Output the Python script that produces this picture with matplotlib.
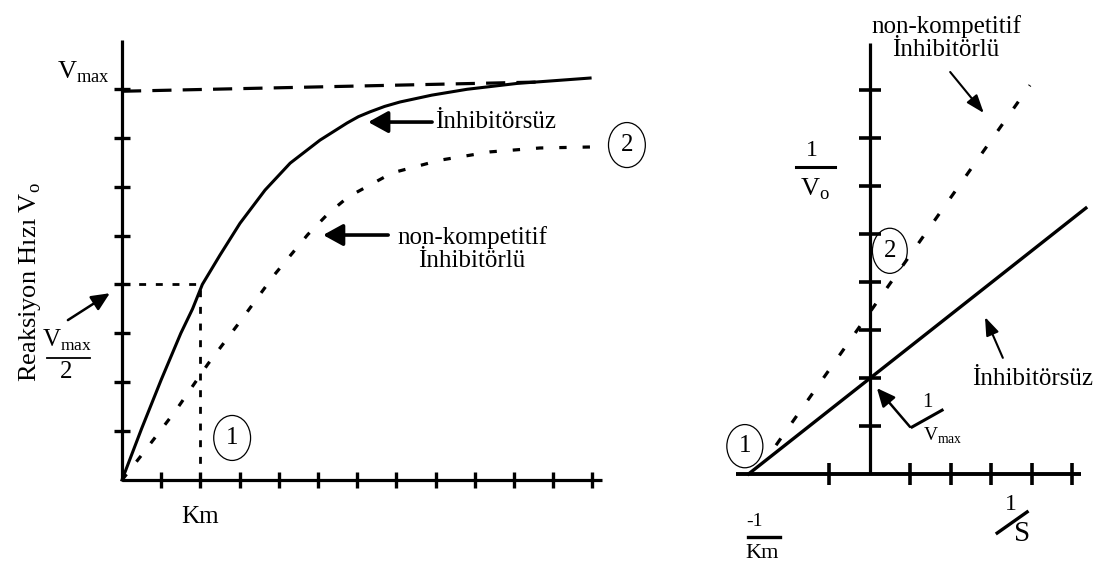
import matplotlib
matplotlib.use("Agg")

import matplotlib.pyplot as plt
from matplotlib.patches import Ellipse

plt.rcParams["font.family"] = "Liberation Serif"
plt.rcParams["mathtext.fontset"] = "custom"
plt.rcParams["mathtext.rm"] = "Liberation Serif"

# Michaelis-Menten panel: substrate vs. reaction rate
s_none = [0, 0.5, 1.0, 1.5, 1.8, 2.05, 2.5, 3.01, 3.65, 4.29, 5.05, 5.74, 6.03, 6.33, 6.7, 7.09, 7.9, 8.8, 10.08, 11.94]
v_none = [0, 1.05, 2.05, 3.0, 3.5, 4.0, 4.6, 5.25, 5.93, 6.48, 6.95, 7.30, 7.43, 7.53, 7.64, 7.73, 7.87, 7.99, 8.11, 8.22]

s_noncomp = [0, 0.54, 1.38, 2.19, 3.04, 3.88, 4.74, 5.25, 5.77, 6.89, 8.11, 9.39, 10.66, 11.94]
v_noncomp = [0, 0.55, 1.43, 2.37, 3.27, 4.19, 5.02, 5.44, 5.79, 6.28, 6.54, 6.71, 6.79, 6.81]

vmax_line_x = [0, 10.7]
vmax_line_y = [7.95, 8.14]
km = 2.0
half_vmax = 4.0

left_yticks = [1, 2, 3, 4, 5, 6, 7, 8]
left_xticks = [1, 2, 3, 4, 5, 6, 7, 8, 9, 10, 11, 12]

# Lineweaver-Burk panel: 1/S vs. 1/V
inv_s_none = [-3.0, 5.33]
inv_v_none = [0, 5.54]
inv_s_noncomp = [-2.32, 3.95]
inv_v_noncomp = [0.6, 8.1]

right_xticks = [-1, 1, 2, 3, 4, 5]
right_yticks = [1, 2, 3, 4, 5, 6, 7, 8]

arrow_big = dict(arrowstyle="-|>,head_length=0.6,head_width=0.33",
                 color="k", lw=2.6, mutation_scale=20, shrinkA=0, shrinkB=0)
arrow_mid = dict(arrowstyle="-|>,head_length=0.55,head_width=0.25",
                 color="k", lw=1.8, mutation_scale=20, shrinkA=0, shrinkB=0)
arrow_thin = dict(arrowstyle="-|>,head_length=0.55,head_width=0.2",
                  color="k", lw=1.5, mutation_scale=20, shrinkA=0, shrinkB=0)

fig = plt.figure(figsize=(11.04, 5.74), dpi=100)

# ---------- left panel ----------
ax1 = fig.add_axes([0, 0, 660 / 1104, 1])
ax1.set_xlim(-3.112, 13.724)
ax1.set_ylim(-1.922, 9.816)
ax1.axis("off")

ax1.plot([0, 0], [0, 9.0], color="k", lw=2.3, solid_capstyle="butt")
ax1.plot([0, 12.24], [0, 0], color="k", lw=2.3, solid_capstyle="butt")
ax1.plot([0] * len(left_yticks), left_yticks, "_", color="k", ms=12, mew=2.4)
ax1.plot(left_xticks, [0] * len(left_xticks), "|", color="k", ms=12, mew=2.4)

ax1.plot(vmax_line_x, vmax_line_y, color="k", lw=2.3, dashes=(6, 3.5))
ax1.plot(s_none, v_none, color="k", lw=2.2, solid_joinstyle="round")
ax1.plot(s_noncomp, v_noncomp, color="k", lw=2.3, dashes=(2.3, 5))
ax1.plot([0, km], [half_vmax, half_vmax], color="k", lw=2.0, dashes=(2.5, 3.5))
ax1.plot([km, km], [0, half_vmax], color="k", lw=2.0, dashes=(2.5, 3.5))

ax1.text(-0.31, 8.34, r"V$_{\mathregular{max}}$", fontsize=19, ha="right", va="center")
ax1.text(-2.35, 4.05, r"Reaksiyon Hızı V$_{\mathregular{o}}$", fontsize=19,
         rotation=90, ha="center", va="center")

ax1.text(-1.40, 2.86, r"V$_{\mathregular{max}}$", fontsize=18, ha="center", va="center")
ax1.plot([-1.91, -0.82], [2.49, 2.49], color="k", lw=1.3)
ax1.text(-1.43, 2.21, "2", fontsize=18, ha="center", va="center")
ax1.annotate("", xy=(-0.31, 3.82), xytext=(-1.38, 3.27), arrowprops=arrow_mid)

ax1.text(1.99, -0.76, "Km", fontsize=18, ha="center", va="center")

ax1.add_patch(Ellipse((2.81, 0.86), 0.94, 0.92, fill=False, color="k", lw=0.9))
ax1.text(2.81, 0.86, "1", fontsize=18, ha="center", va="center")
ax1.add_patch(Ellipse((12.88, 6.85), 0.94, 0.92, fill=False, color="k", lw=0.9))
ax1.text(12.88, 6.85, "2", fontsize=18, ha="center", va="center")

ax1.text(9.52, 7.32, "İnhibitörsüz", fontsize=18, ha="center", va="center")
ax1.annotate("", xy=(6.28, 7.32), xytext=(7.91, 7.32), arrowprops=arrow_big)

ax1.text(8.93, 4.72, "non-kompetitif\nİnhibitörlü", fontsize=18, ha="center",
         va="center", linespacing=1.08)
ax1.annotate("", xy=(5.13, 5.01), xytext=(6.79, 5.01), arrowprops=arrow_big)

# ---------- right panel ----------
ax2 = fig.add_axes([660 / 1104, 0, 444 / 1104, 1])
ax2.set_xlim(-5.185, 5.778)
ax2.set_ylim(-2.083, 9.875)
ax2.axis("off")

ax2.plot([0, 0], [0, 8.98], color="k", lw=2.3, solid_capstyle="butt")
ax2.plot([-3.3, 5.2], [0, 0], color="k", lw=2.8, solid_capstyle="butt")
ax2.plot([0] * len(right_yticks), right_yticks, "_", color="k", ms=16, mew=2.6)
ax2.plot(right_xticks, [0] * len(right_xticks), "|", color="k", ms=16, mew=2.6)

ax2.plot(inv_s_none, inv_v_none, color="k", lw=2.4)
ax2.plot(inv_s_noncomp, inv_v_noncomp, color="k", lw=2.3, dashes=(2.6, 6))

ax2.text(1.88, 9.08, "non-kompetitif\nİnhibitörlü", fontsize=18, ha="center",
         va="center", linespacing=1.08)
ax2.annotate("", xy=(2.81, 7.52), xytext=(1.98, 8.375), arrowprops=arrow_thin)

ax2.text(-1.43, 6.75, "1", fontsize=17, ha="center", va="center")
ax2.plot([-1.83, -0.86], [6.40, 6.40], color="k", lw=2.2)
ax2.text(-1.36, 5.94, r"V$_{\mathregular{o}}$", fontsize=19, ha="center", va="center")

ax2.add_patch(Ellipse((0.49, 4.65), 0.86, 0.94, fill=False, color="k", lw=0.9))
ax2.text(0.49, 4.65, "2", fontsize=18, ha="center", va="center")
ax2.add_patch(Ellipse((-3.09, 0.58), 0.89, 0.9, fill=False, color="k", lw=0.9))
ax2.text(-3.09, 0.58, "1", fontsize=18, ha="center", va="center")

ax2.text(4.02, 1.98, "İnhibitörsüz", fontsize=18, ha="center", va="center")
ax2.annotate("", xy=(2.84, 3.27), xytext=(3.28, 2.42), arrowprops=arrow_thin)

ax2.text(1.41, 1.50, "1", fontsize=15, ha="center", va="center")
ax2.plot([1.04, 1.78], [0.98, 1.33], color="k", lw=2.2)
ax2.text(1.80, 0.79, r"V$_{\mathregular{max}}$", fontsize=14, ha="center", va="center")
ax2.annotate("", xy=(0.17, 1.79), xytext=(0.99, 0.98), arrowprops=arrow_mid)

ax2.text(-2.84, -0.98, "-1", fontsize=14, ha="center", va="center")
ax2.plot([-3.01, -2.22], [-1.31, -1.31], color="k", lw=2.4)
ax2.text(-2.67, -1.65, "Km", fontsize=16, ha="center", va="center")

ax2.text(3.48, -0.625, "1", fontsize=17, ha="center", va="center")
ax2.plot([3.14, 3.88], [-1.23, -0.79], color="k", lw=2.4)
ax2.text(3.75, -1.25, "S", fontsize=21, ha="center", va="center")

fig.savefig("out.png", dpi=100)
